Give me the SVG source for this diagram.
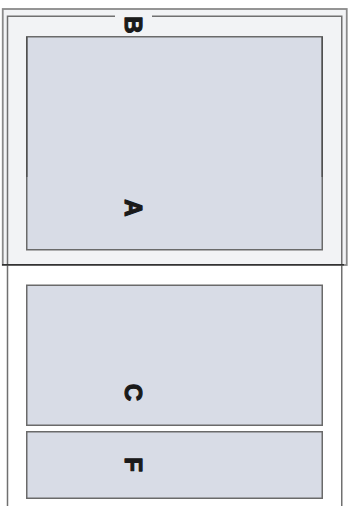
<svg xmlns="http://www.w3.org/2000/svg" width="349" height="506" viewBox="0 0 349 506">
<style>
.box{fill:#D8DCE6;stroke:#6A6A6A;stroke-width:1.5}
.lbl{font-family:"Liberation Sans",Arial,sans-serif;font-weight:bold;font-size:24px;fill:#1A1A1A;stroke:#1A1A1A;stroke-width:1.2;stroke-linejoin:round;text-anchor:middle}
.frame{fill:none;stroke:#707070;stroke-width:1.5}
</style>
<rect width="349" height="506" fill="#FFFFFF"/>
<g id="B">
  <rect x="2.75" y="9" width="344" height="256" fill="#F2F3F5" stroke="#8A8A8A" stroke-width="1.8"/>
  <path class="frame" d="M115,16.25 H7.5 V506 M152,16.25 H341.75 V506"/>
  <line x1="2" y1="264.75" x2="344" y2="264.75" stroke="#333333" stroke-width="1.3"/>
  <text class="lbl" transform="translate(124.5,25) rotate(90)">B</text>
</g>
<g id="A">
  <rect class="box" x="26.75" y="36.75" width="295.5" height="213"/>
  <path d="M26.75,37 V177 M322.25,37 V177" stroke="#505050" stroke-width="1.5" fill="none"/>
  <text class="lbl" transform="translate(124.5,208) rotate(90)">A</text>
</g>
<g id="C">
  <rect class="box" x="26.75" y="285.25" width="295.5" height="140"/>
  <text class="lbl" transform="translate(124.5,392.5) rotate(90)">C</text>
</g>
<g id="F">
  <rect class="box" x="26.75" y="431.75" width="295.5" height="66.5"/>
  <text class="lbl" transform="translate(124.5,464.5) rotate(90)">F</text>
</g>
<g id="connectors"></g>
</svg>
